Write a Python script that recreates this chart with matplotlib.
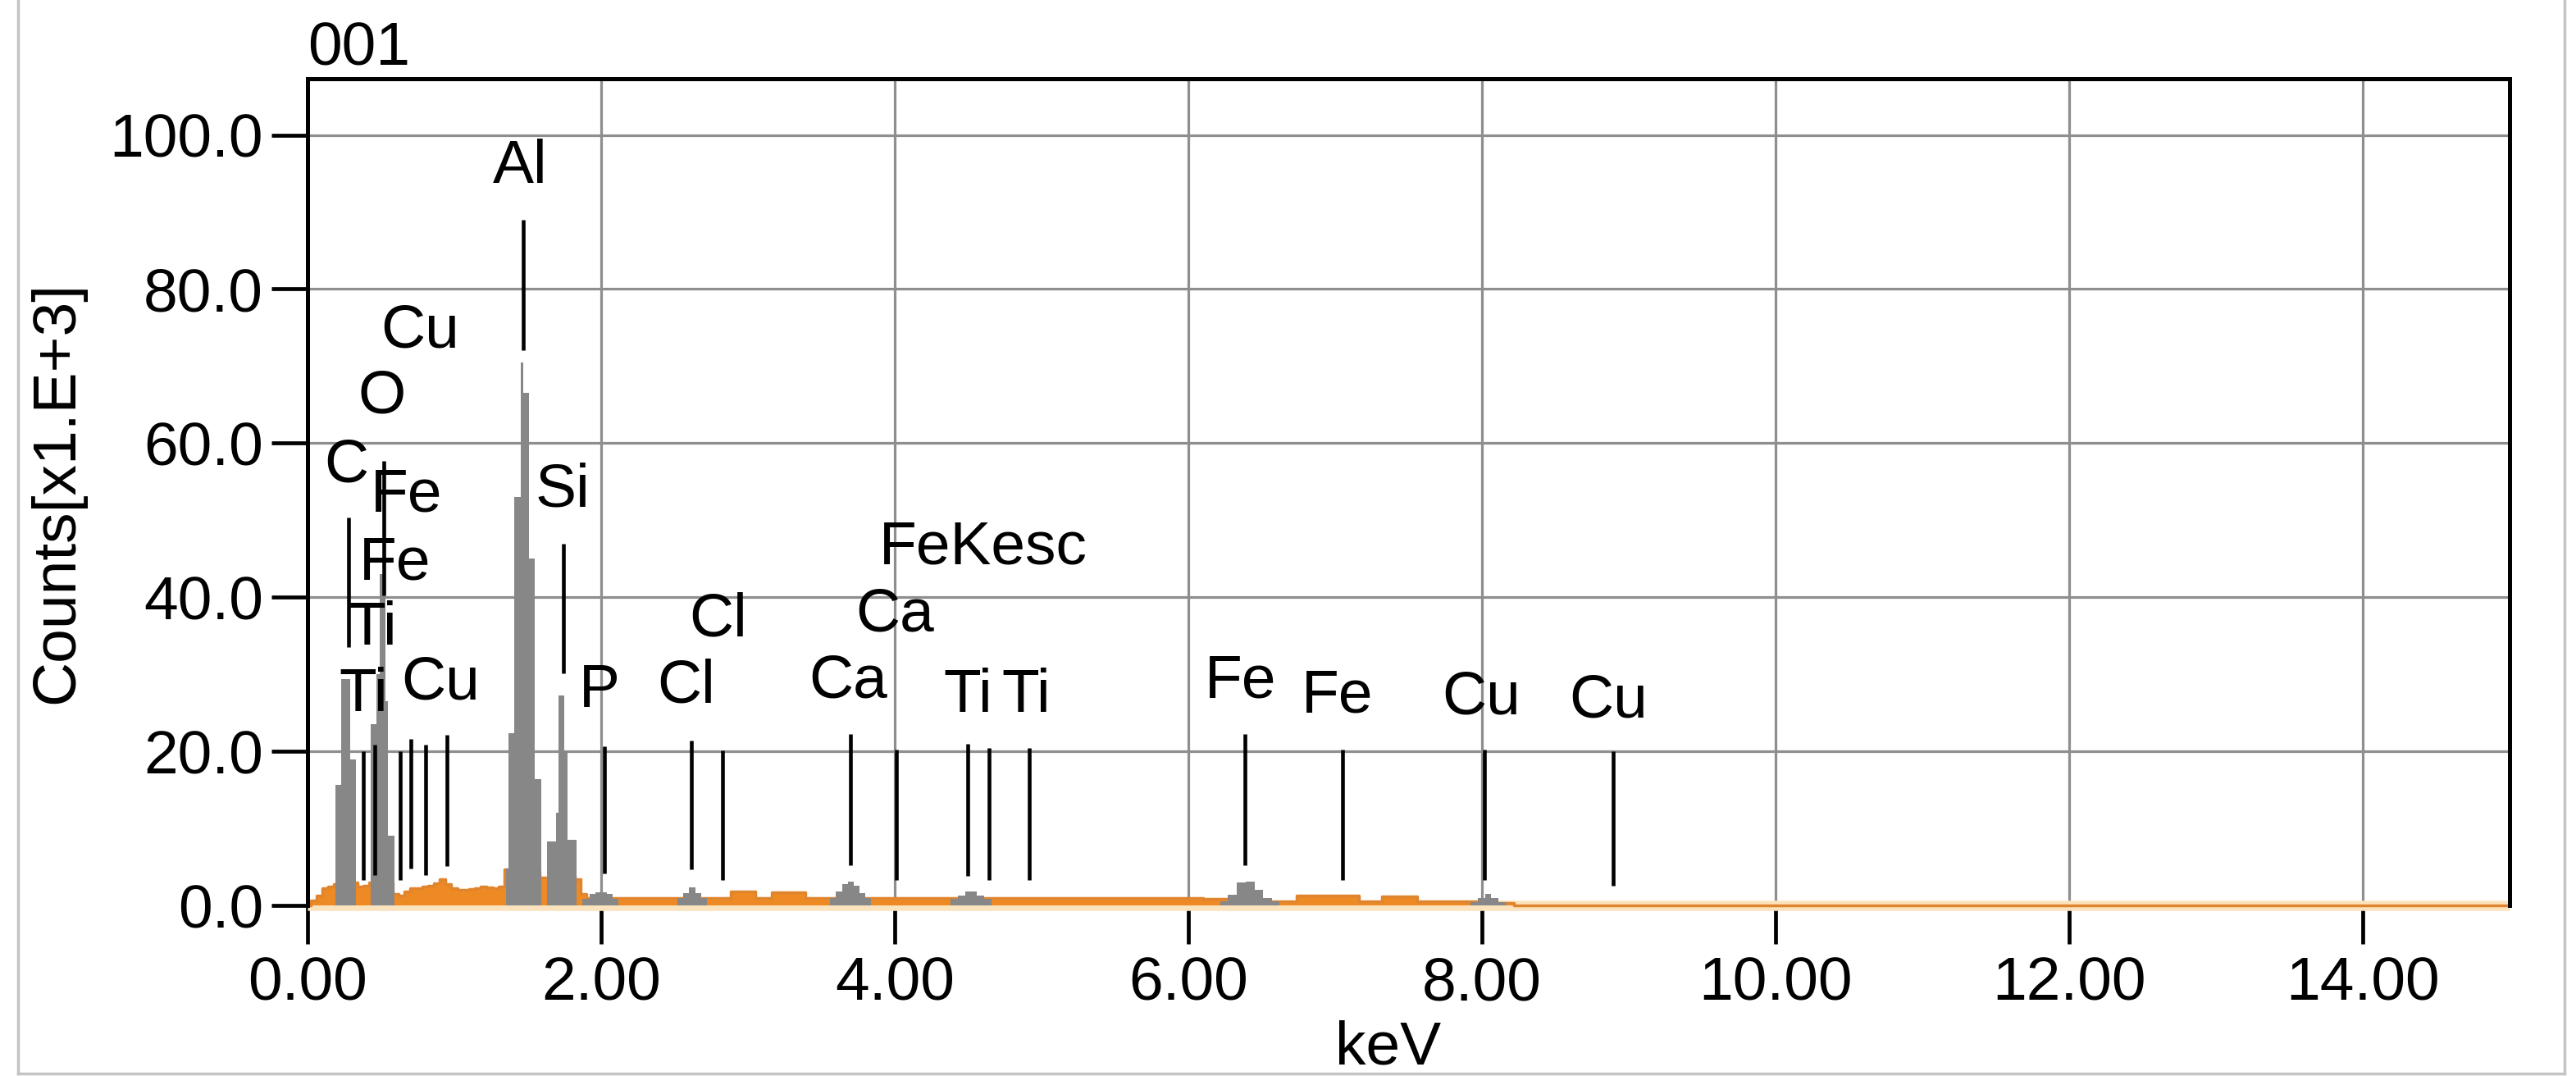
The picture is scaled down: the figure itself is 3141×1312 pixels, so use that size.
import matplotlib
matplotlib.use("Agg")
import matplotlib.pyplot as plt
from matplotlib.lines import Line2D
import numpy as np

plt.rcParams['font.family'] = ['Liberation Sans', 'DejaVu Sans']

# ---------------- data ----------------
title = "001"
x_label = "keV"
y_label = "Counts[x1.E+3]"
x_ticks = [0, 2, 4, 6, 8, 10, 12, 14]
x_ticklabels = ["0.00", "2.00", "4.00", "6.00", "8.00", "10.00", "12.00", "14.00"]
y_ticks = [0, 20, 40, 60, 80, 100]
y_ticklabels = ["0.0", "20.0", "40.0", "60.0", "80.0", "100.0"]

# orange (background / total) spectrum, keV and counts [x1000]
bg_kev = [0.00, 0.04, 0.08, 0.12, 0.16, 0.20, 0.24, 0.28, 0.32, 0.36, 0.40, 0.44,
          0.48, 0.52, 0.56, 0.60, 0.64, 0.68, 0.72, 0.76, 0.80, 0.84, 0.88, 0.92,
          0.96, 1.00, 1.04, 1.08, 1.12, 1.16, 1.20, 1.24, 1.28, 1.32, 1.36, 1.40,
          1.44, 1.48, 1.52, 1.56, 1.60, 1.64, 1.68, 1.72, 1.76, 1.80, 1.84, 1.88,
          1.92, 2.00, 2.20, 2.40, 2.60, 2.80, 2.96, 3.02, 3.08, 3.24, 3.30, 3.36,
          3.42, 3.60, 4.00, 4.40, 4.80, 5.20, 5.60, 6.00, 6.20, 6.60, 6.88, 7.00,
          7.12, 7.20, 7.44, 7.52, 7.60, 8.00, 8.20, 8.24, 15.00]
bg_counts = [0.0, 0.6, 1.3, 2.2, 2.5, 2.8, 3.0, 3.0, 3.0, 2.5, 2.6, 3.0,
             3.5, 3.5, 3.0, 1.5, 1.3, 1.8, 2.2, 2.2, 2.4, 2.6, 2.9, 3.4,
             2.8, 2.2, 2.0, 2.0, 2.1, 2.2, 2.5, 2.3, 2.2, 2.4, 4.7, 5.0,
             5.0, 5.0, 5.0, 4.5, 3.6, 3.6, 4.0, 4.0, 4.0, 3.8, 3.4, 1.5,
             1.0, 1.0, 1.0, 1.0, 1.0, 1.0, 1.8, 1.8, 1.0, 1.7, 1.7, 1.7,
             1.0, 1.0, 1.0, 1.0, 1.0, 1.0, 1.0, 1.0, 0.9, 0.5, 1.3, 1.3,
             1.3, 0.5, 1.2, 1.2, 0.5, 0.5, 0.3, 0.0, 0.0]

# gray (identified peak) spectrum
pk_kev = [0.18, 0.20, 0.22, 0.24, 0.26, 0.28, 0.30, 0.32, 0.34,
          0.42, 0.44, 0.46, 0.48, 0.50, 0.52, 0.54, 0.56, 0.58, 0.60,
          1.34, 1.36, 1.38, 1.40, 1.42, 1.44, 1.46, 1.48, 1.50, 1.52, 1.54, 1.56, 1.58, 1.60,
          1.62, 1.64, 1.66, 1.68, 1.70, 1.72, 1.74, 1.76, 1.78, 1.80, 1.82, 1.84,
          1.90, 1.94, 1.98, 2.02, 2.06, 2.10, 2.14,
          2.50, 2.54, 2.58, 2.62, 2.66, 2.70, 2.74,
          3.54, 3.58, 3.62, 3.66, 3.70, 3.74, 3.78, 3.82, 3.86,
          4.36, 4.40, 4.46, 4.50, 4.54, 4.58, 4.64, 4.68,
          6.20, 6.24, 6.30, 6.36, 6.42, 6.48, 6.54, 6.60, 6.64,
          7.90, 7.94, 8.00, 8.04, 8.08, 8.14, 8.18]
pk_counts = [0.0, 15.6, 15.6, 29.4, 29.4, 29.4, 19.0, 19.0, 0.0,
             0.0, 23.5, 23.5, 30.0, 43.0, 43.0, 26.5, 9.0, 9.0, 0.0,
             0.0, 4.8, 22.4, 22.4, 53.0, 53.0, 70.5, 66.5, 66.5, 45.0, 45.0, 16.4, 16.4, 0.0,
             0.0, 8.3, 8.3, 8.3, 12.0, 27.3, 27.3, 20.0, 8.5, 8.5, 8.5, 0.0,
             0.8, 1.5, 1.7, 1.7, 1.5, 0.8, 0.0,
             0.0, 1.0, 1.6, 2.3, 1.6, 1.0, 0.0,
             0.0, 1.0, 1.8, 2.8, 3.1, 2.6, 1.6, 1.0, 0.0,
             0.0, 0.9, 1.3, 1.8, 1.8, 1.3, 0.9, 0.0,
             0.0, 0.5, 1.4, 3.0, 3.1, 2.0, 1.0, 0.5, 0.0,
             0.0, 0.4, 1.0, 1.5, 1.0, 0.4, 0.0]

# KLM marker lines: energy, bottom, top (counts x1000)
marker_kev = [0.278, 0.518, 0.379, 0.457, 0.629, 0.702, 0.802, 0.947,
              1.470, 1.743, 2.021, 2.617, 2.828, 3.697, 4.009,
              4.499, 4.644, 4.917, 6.386, 7.049, 8.018, 8.892]
marker_bottom = [33.5, 40.2, 3.3, 3.9, 3.3, 4.8, 3.9, 5.1,
                 72.1, 30.1, 4.2, 4.7, 3.3, 5.2, 3.3,
                 3.8, 3.3, 3.3, 5.2, 3.3, 3.3, 2.6]
marker_top = [50.3, 57.7, 20.0, 20.9, 20.0, 21.6, 20.9, 22.1,
              89.0, 46.9, 20.7, 21.4, 20.1, 22.3, 20.2,
              21.0, 20.4, 20.4, 22.3, 20.2, 20.2, 20.0]

# marker labels: text, centre energy, baseline height
label_text = ["Al", "Cu", "O", "C", "Fe", "Si", "Fe", "FeKesc", "Ti", "Cl", "Ca",
              "Ti", "Cu", "P", "Cl", "Ca", "Ti", "Ti", "Fe", "Fe", "Cu", "Cu"]
label_kev = [1.448, 0.768, 0.507, 0.262, 0.674, 1.737, 0.596, 4.605, 0.445, 2.795, 3.998,
             0.379, 0.908, 1.988, 2.578, 3.680, 4.499, 4.894, 6.353, 7.016, 7.996, 8.859]
label_base = [93.8, 72.4, 63.9, 55.0, 51.2, 51.8, 42.3, 44.3, 33.8, 35.0, 35.6,
              25.2, 26.8, 25.8, 26.3, 27.0, 25.1, 25.1, 27.0, 25.1, 24.9, 24.4]

# ---------------- figure ----------------
W, H = 3141, 1312
fig = plt.figure(figsize=(W / 100, H / 100), dpi=100)
ax = fig.add_axes([375 / W, 208 / H, (3060 - 375) / W, 1008 / H])

FS = 54
ORANGE = '#EE8A24'
GRAY = '#878787'

ax.set_xlim(0, 15)
ax.set_ylim(0, 107.3)

ax.grid(True, color='#8E8E8E', lw=2.3, zorder=0)
ax.set_axisbelow(True)

# glow under baseline
ax.plot([0, 15], [0, 0], color='#FBE3BE', lw=9, clip_on=False, zorder=1,
        solid_capstyle='butt')

ax.fill_between(bg_kev, bg_counts, 0, step='mid', color=ORANGE, lw=0, zorder=2)
ax.step(bg_kev, bg_counts, where='mid', color='#E0852E', lw=2.5, clip_on=False, zorder=2)
ax.fill_between(pk_kev, pk_counts, 0, step='mid', color=GRAY, lw=0, zorder=3)

ax.vlines(marker_kev, marker_bottom, marker_top, colors='black', lw=3.3, zorder=4)
for t, xk, yb in zip(label_text, label_kev, label_base):
    ax.text(xk, yb, t, ha='center', va='baseline', fontsize=FS, color='black', zorder=5)

for side in ['left', 'top', 'right']:
    ax.spines[side].set_color('black')
    ax.spines[side].set_linewidth(3.6)
    ax.spines[side].set_zorder(6)
ax.spines['bottom'].set_visible(False)

ax.set_xticks(x_ticks)
ax.set_xticklabels(x_ticklabels)
ax.set_yticks(y_ticks)
ax.set_yticklabels(y_ticklabels)
ax.tick_params(axis='x', direction='out', length=34, width=3.4, pad=10,
               labelsize=FS, colors='black')
ax.tick_params(axis='y', direction='out', length=32, width=3.4, pad=7,
               labelsize=FS, colors='black')

fig.text(375 / W, 1 - 80 / H, title, ha='left', va='baseline', fontsize=FS)
fig.text(1693 / W, 1 - 1297 / H, x_label, ha='center', va='baseline', fontsize=FS)
fig.text(70 / W, 1 - 600 / H, y_label, rotation=90, ha='center', va='center', fontsize=FS)

# light outer frame
bc = '#C4C4C4'
fig.add_artist(Line2D([22 / W, 22 / W], [1 - 1309 / H, 1.0], color=bc, lw=2.5))
fig.add_artist(Line2D([22 / W, 3127 / W], [1 - 1309 / H, 1 - 1309 / H], color=bc, lw=2.5))
fig.add_artist(Line2D([3127 / W, 3127 / W], [1 - 1309 / H, 1.0], color=bc, lw=2.5))

fig.savefig("out.png", dpi=100, facecolor='white')
